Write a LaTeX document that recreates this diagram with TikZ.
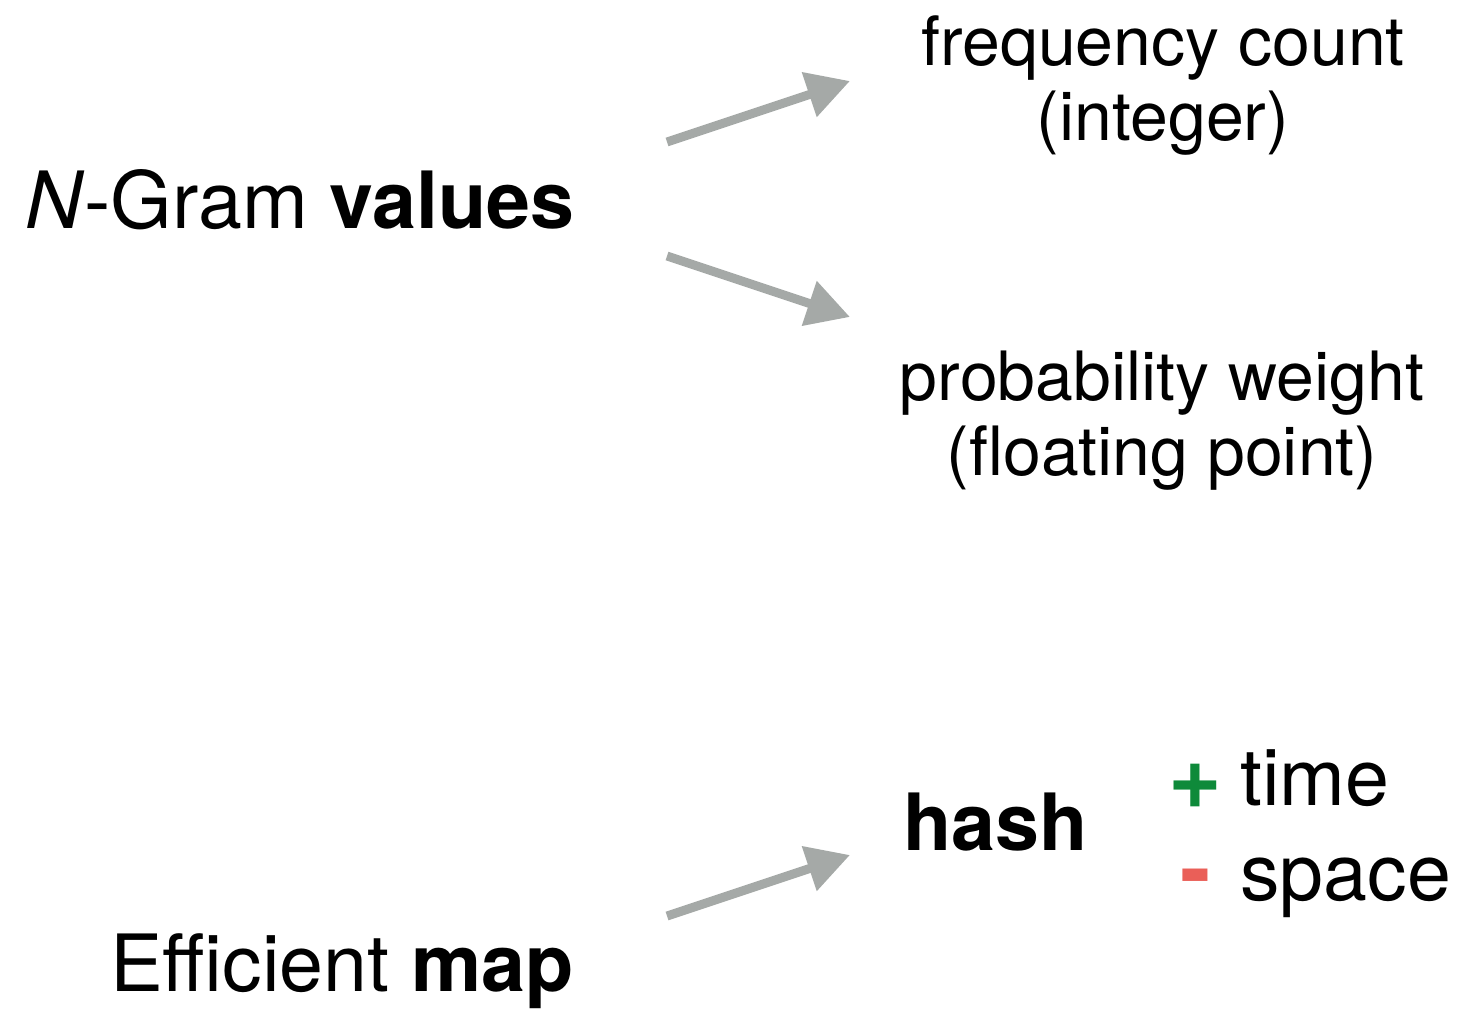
\documentclass[tikz,border=0pt]{standalone}
\usepackage{fontspec}
\setmainfont{TeX Gyre Heros}
\usetikzlibrary{arrows.meta}
\definecolor{arrowgrey}{HTML}{A5A9A7}
\definecolor{plusgreen}{HTML}{0E8A3A}
\definecolor{minusred}{HTML}{EA5F58}
\tikzset{
  lbl/.style={inner sep=0pt, anchor=base, font=\fontsize{68}{68}\selectfont},
  big/.style={inner sep=0pt, anchor=base west, font=\fontsize{79}{79}\selectfont},
  sign/.style={inner sep=0pt, anchor=base west, font=\fontsize{92}{92}\selectfont\bfseries},
  fatarrow/.style={draw=arrowgrey, line width=9pt,
    -{Triangle[length=43pt,width=45pt]}, arrowgrey},
}
\begin{document}
\begin{tikzpicture}[x=1pt,y=-1pt]
  \useasboundingbox (0,0) rectangle (1467,1009);

  % left-hand headings
  \node[big] (ngram) at (25,228) {\textit{N}-Gram \textbf{values}};
  \node[big] (effmap) at (110,991) {Efficient \textbf{map}};

  % value types
  \node[lbl] (freq) at (1163,65) {frequency count};
  \node[lbl] (int) at (1163,140) {(integer)};
  \node[lbl] (prob) at (1162,400) {probability weight};
  \node[lbl] (float) at (1162,475) {(floating point)};

  % hash map trade-offs
  \node[big] (hash) at (903,850) {\textbf{hash}};
  \node[sign, text=plusgreen] (plus) at (1168,808) {+};
  \node[big] (time) at (1240,805) {time};
  \node[sign, text=minusred] (minus) at (1180,900) {-};
  \node[big] (space) at (1240,900) {space};

  % arrow anchor points
  \coordinate (a1s) at (667,142);
  \coordinate (a1e) at (850,81);
  \coordinate (a2s) at (667,256);
  \coordinate (a2e) at (850,317);
  \coordinate (a3s) at (667,916);
  \coordinate (a3e) at (850,855);

  \draw[fatarrow] (a1s) -- (a1e);
  \draw[fatarrow] (a2s) -- (a2e);
  \draw[fatarrow] (a3s) -- (a3e);
\end{tikzpicture}
\end{document}
